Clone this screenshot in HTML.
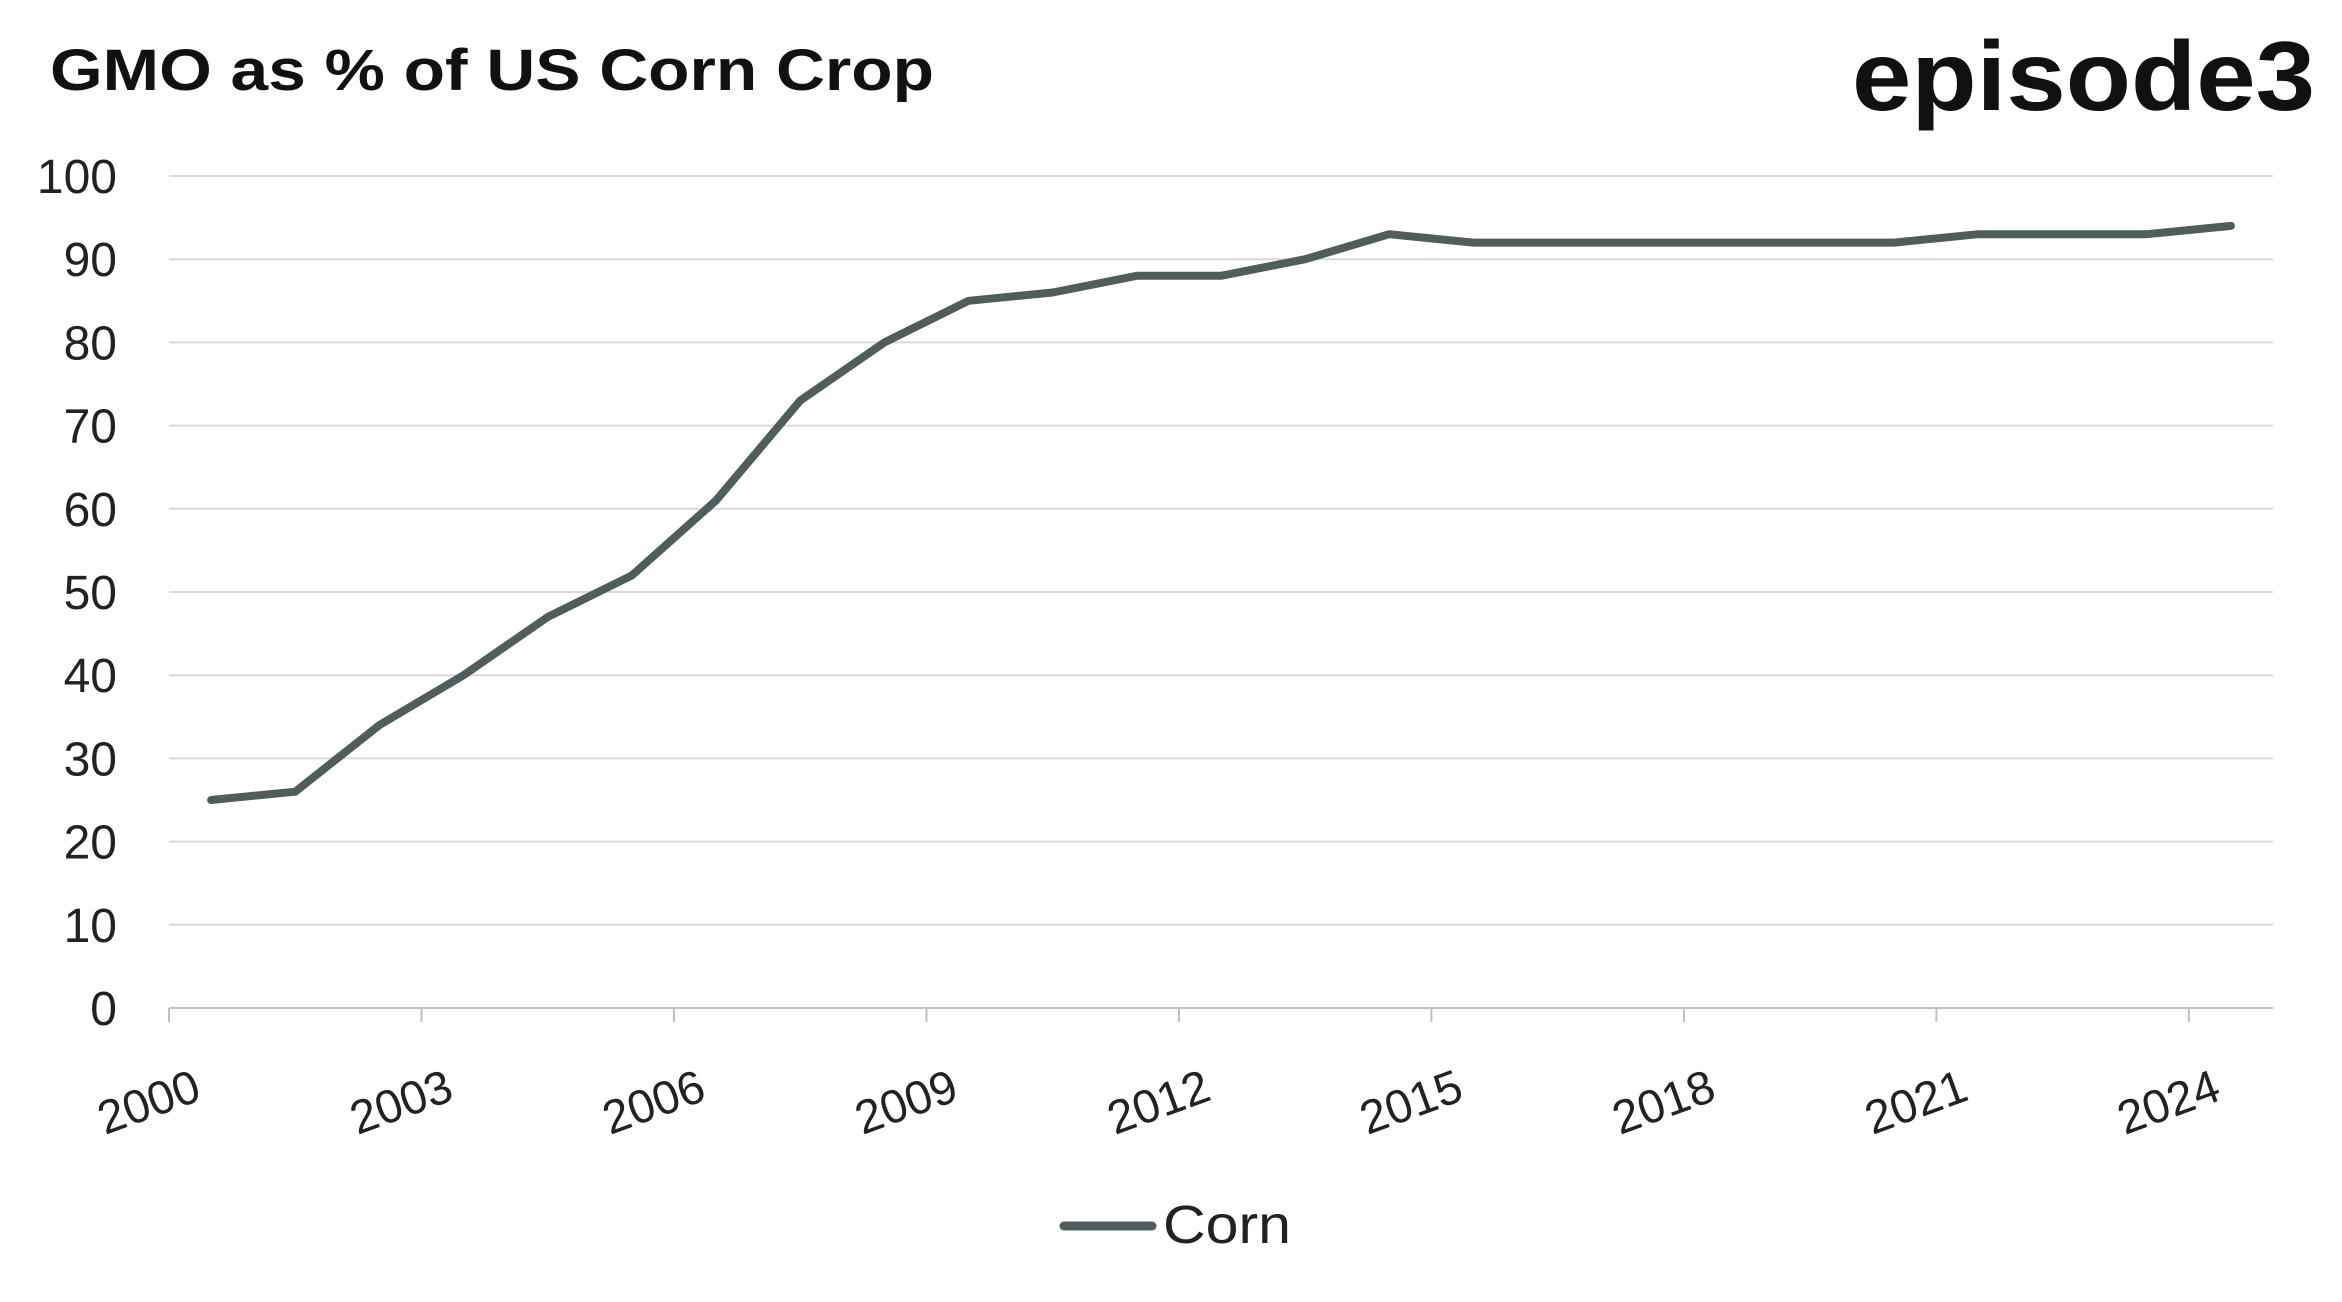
<!DOCTYPE html>
<html><head><meta charset="utf-8"><style>
html,body{margin:0;padding:0;background:#fff;}
svg{display:block;font-family:"Liberation Sans",sans-serif;}
</style></head><body>
<svg id="chart" width="2342" height="1302" viewBox="0 0 2342 1302">
<text x="50" y="90" font-size="58" font-weight="bold" fill="#111" textLength="884" lengthAdjust="spacingAndGlyphs">GMO as % of US Corn Crop</text>
<text x="1852" y="110" font-size="98" font-weight="bold" fill="#111" textLength="463" lengthAdjust="spacingAndGlyphs">episode3</text>
<g id="grid"></g><g id="yax"></g><g id="xax"></g><g id="series"></g>
<line x1="1064" y1="1226" x2="1152" y2="1226" stroke="#4f5d5c" stroke-width="9" stroke-linecap="round"/>
<text x="1163" y="1243" font-size="54" fill="#222" textLength="128" lengthAdjust="spacingAndGlyphs">Corn</text>
</svg>
<script>
const years=[2000,2001,2002,2003,2004,2005,2006,2007,2008,2009,2010,2011,2012,2013,2014,2015,2016,2017,2018,2019,2020,2021,2022,2023,2024];
const cornValues=[25,26,34,40,47,52,61,73,80,85,86,88,88,90,93,92,92,92,92,92,92,93,93,93,94];
const yTicks=[0,10,20,30,40,50,60,70,80,90,100];
const xTickYears=[2000,2003,2006,2009,2012,2015,2018,2021,2024];
const NS="http://www.w3.org/2000/svg";
const x0=169,x1=2273,y0=1008,y100=176;
const pxPerYear=(x1-x0)/25;
function xs(yr){return x0+(yr-2000)*pxPerYear;}
function ys(v){return y0-(v/100)*(y0-y100);}
function mk(t,a,p){const e=document.createElementNS(NS,t);for(const k in a)e.setAttribute(k,a[k]);p.appendChild(e);return e;}
const grid=document.getElementById('grid'),yax=document.getElementById('yax'),xax=document.getElementById('xax'),ser=document.getElementById('series');
yTicks.forEach(v=>{
 const l=mk('line',{x1:x0,x2:x1,y1:ys(v),y2:ys(v),stroke:v===0?'#bfbfbf':'#d9d9d9','stroke-width':2},grid);
 
 
 const t=mk('text',{x:117,y:ys(v)+17,'text-anchor':'end','font-size':48,fill:'#222'},yax);
 t.textContent=v;
 
 
});
xTickYears.forEach(yr=>{
 const x=xs(yr);
 const tk=mk('line',{x1:x,x2:x,y1:y0,y2:y0+14,stroke:'#bfbfbf','stroke-width':2},xax);
 
 
 const t=mk('text',{x:x-20,y:1118,'text-anchor':'middle','font-size':47,fill:'#222',transform:'rotate(-20 '+(x-20)+' 1103)'},xax);
 t.textContent=yr;
 
 
});
const pts=years.map((yr,i)=>xs(yr+0.5).toFixed(1)+','+ys(cornValues[i]).toFixed(1)).join(' ');
const pl=mk('polyline',{points:pts,fill:'none',stroke:'#4f5d5c','stroke-width':8,'stroke-linejoin':'round','stroke-linecap':'round'},ser);


</script>
</body></html>
